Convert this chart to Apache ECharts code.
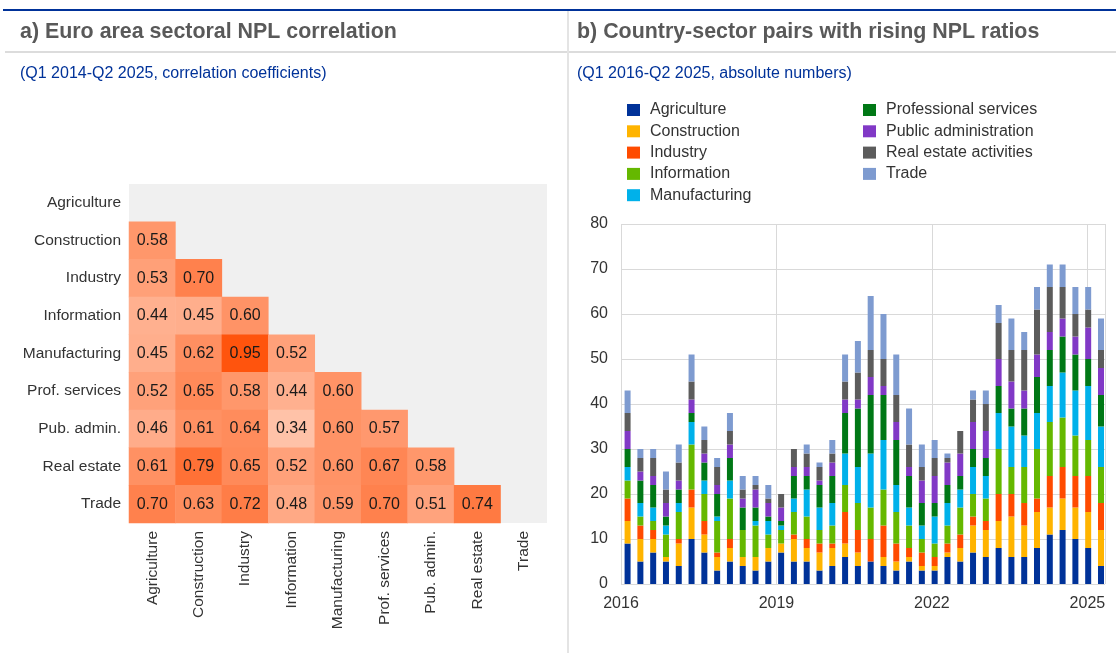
<!DOCTYPE html>
<html>
<head>
<meta charset="utf-8">
<script src="https://cdn.jsdelivr.net/npm/echarts@6/dist/echarts.min.js"></script>
<style>
  html, body { margin: 0; padding: 0; background: #ffffff; }
  #chart { width: 1116px; height: 653px; }
</style>
</head>
<body>
<div id="chart"></div>
<script>
// ---- Panel a: sector correlation matrix (lower triangle) ----
const sectors = ['Agriculture', 'Construction', 'Industry', 'Information', 'Manufacturing',
                 'Prof. services', 'Pub. admin.', 'Real estate', 'Trade'];
// row i holds correlations with sectors 0..i-1
const corrConstruction = [0.58];
const corrIndustry = [0.53, 0.70];
const corrInformation = [0.44, 0.45, 0.60];
const corrManufacturing = [0.45, 0.62, 0.95, 0.52];
const corrProfServices = [0.52, 0.65, 0.58, 0.44, 0.60];
const corrPubAdmin = [0.46, 0.61, 0.64, 0.34, 0.60, 0.57];
const corrRealEstate = [0.61, 0.79, 0.65, 0.52, 0.60, 0.67, 0.58];
const corrTrade = [0.70, 0.63, 0.72, 0.48, 0.59, 0.70, 0.51, 0.74];
const corrRows = [[], corrConstruction, corrIndustry, corrInformation, corrManufacturing,
                  corrProfServices, corrPubAdmin, corrRealEstate, corrTrade];

// ---- Panel b: country-sector pairs with rising NPL ratios, Q1 2016 - Q2 2025 ----
const seriesNames = ['Agriculture', 'Construction', 'Industry', 'Information', 'Manufacturing',
                     'Professional services', 'Public administration', 'Real estate activities', 'Trade'];
const agriculture   = [9,5,7,5,4,10,7,3,5,4, 3,5,7,5,5,3,4,6,4,5, 4,3,5,3,3,6,5,7,6,8, 6,6,8,11,12,10,8,4];
const construction  = [5,5,3,1,5,7,4,3,3,2, 3,3,2,5,3,4,4,3,3,0, 2,2,1,1,1,1,3,6,6,6, 9,7,8,6,7,7,8,8];
const industry      = [5,3,2,0,1,4,3,1,2,0, 0,0,0,1,2,2,1,7,5,5, 7,4,2,3,2,2,3,2,2,6, 5,5,3,7,7,7,8,6];
const information   = [4,2,2,5,6,10,6,7,9,6, 7,3,3,5,5,3,4,6,6,7, 8,7,5,3,3,4,6,5,5,10, 6,8,11,12,11,9,8,8];
const manufacturing = [3,3,3,2,2,5,3,1,4,0, 1,3,1,3,6,5,5,7,8,12, 11,6,4,3,6,5,4,6,5,8, 9,7,8,8,10,10,12,9];
const profServices  = [4,5,5,2,3,2,4,5,5,5, 3,1,1,5,3,5,6,9,13,13, 10,10,7,5,3,4,3,4,4,6, 4,6,8,8,8,8,6,7];
const pubAdmin      = [4,2,2,3,2,3,2,2,3,2, 4,3,3,2,2,1,3,3,2,4, 2,4,2,5,6,5,5,6,6,6, 6,4,5,4,4,4,7,6];
const realEstate    = [4,3,4,3,4,4,3,4,3,2, 1,1,3,4,3,3,2,4,6,6, 6,6,5,3,4,1,5,5,6,8, 7,9,10,10,7,5,4,4];
const trade         = [5,2,2,4,4,6,3,2,4,3, 2,3,0,0,2,1,3,6,7,12, 10,9,8,5,4,1,0,2,3,4, 7,4,5,5,5,6,5,7];
const seriesValues = [agriculture, construction, industry, information, manufacturing,
                      profServices, pubAdmin, realEstate, trade];
const seriesColors = ['#003299', '#ffb400', '#ff4b00', '#65b800', '#00b1ea',
                      '#007816', '#8139c6', '#5c5c5c', '#7e9bd0'];
const yearTicks = [2016, 2019, 2022, 2025];

// quarter labels, 2016Q1 .. 2025Q2
const quarters = [];
for (let y = 2016; y <= 2025; y++) {
  for (let q = 1; q <= 4; q++) {
    if (y === 2025 && q > 2) break;
    quarters.push(y + 'Q' + q);
  }
}
const X_MIN = 2016, X_MAX = 2025.34;
const YEAR_MS = 365.25 * 864e5;
const T0 = Date.UTC(2016, 0, 1);
// fractional year -> linear timestamp (same linear scale as the year axis)
function toMs(yearFrac) { return T0 + (yearFrac - 2016) * YEAR_MS; }
// position of a quarter on the continuous year scale
function quarterPos(label) {
  const y = parseInt(label.slice(0, 4), 10);
  const q = parseInt(label.slice(5), 10);
  return y + (q - 1) / 4 + 0.07;
}

// heatmap cells
const heatData = [];
corrRows.forEach((row, yi) => {
  row.forEach((v, xi) => heatData.push([xi, yi, v]));
});

const FONT = 'Liberation Sans, Arial, sans-serif';
const chart = echarts.init(document.getElementById('chart'), null, { renderer: 'canvas' });

const barSeries = seriesNames.map((name, i) => ({
  name: name,
  type: 'bar',
  stack: 'pairs',
  xAxisIndex: 1,
  yAxisIndex: 1,
  barWidth: 6,
  itemStyle: { color: seriesColors[i] },
  emphasis: { disabled: true },
  data: quarters.map((q, k) => [toMs(quarterPos(q)), seriesValues[i][k]])
}));

const legendText = { fontSize: 16, color: '#333333', lineHeight: 18, padding: [0, 0, 0, 5] };

chart.setOption({
  animation: false,
  textStyle: { fontFamily: FONT },
  graphic: [
    { type: 'rect', shape: { x: 3, y: 9, width: 1113, height: 2 }, style: { fill: '#003299' } },
    { type: 'rect', shape: { x: 5, y: 51, width: 1111, height: 2 }, style: { fill: '#dcdcdc' } },
    { type: 'rect', shape: { x: 567, y: 11, width: 2, height: 642 }, style: { fill: '#e4e4e4' } },
    { type: 'text', left: 20, top: 22, style: { text: 'a) Euro area sectoral NPL correlation',
        font: 'bold 21.4px ' + FONT, fill: '#595959' } },
    { type: 'text', left: 577, top: 22, style: { text: 'b) Country-sector pairs with rising NPL ratios',
        font: 'bold 21.4px ' + FONT, fill: '#595959' } },
    { type: 'text', left: 20, top: 66, style: { text: '(Q1 2014-Q2 2025, correlation coefficients)',
        font: '16px ' + FONT, fill: '#003299' } },
    { type: 'text', left: 577, top: 66, style: { text: '(Q1 2016-Q2 2025, absolute numbers)',
        font: '16px ' + FONT, fill: '#003299' } }
  ],
  legend: [
    {
      data: seriesNames.slice(0, 5),
      orient: 'vertical', left: 622, top: 96,
      itemWidth: 13, itemHeight: 12, itemGap: 3.3,
      icon: 'rect', selectedMode: false,
      textStyle: legendText
    },
    {
      data: seriesNames.slice(5),
      orient: 'vertical', left: 858, top: 96,
      itemWidth: 13, itemHeight: 12, itemGap: 3.3,
      icon: 'rect', selectedMode: false,
      textStyle: legendText
    }
  ],
  visualMap: {
    show: false, seriesIndex: 0, min: 0, max: 1,
    inRange: { color: ['#ffffff', '#ff4b00'] }
  },
  grid: [
    { left: 129, top: 184, width: 418, height: 339, show: true,
      backgroundColor: '#f0f0f0', borderWidth: 0 },
    { left: 621, top: 224, right: 11, bottom: 69 }
  ],
  xAxis: [
    {
      gridIndex: 0, type: 'category', data: sectors,
      axisLine: { show: false }, axisTick: { show: false }, splitLine: { show: false },
      axisLabel: { rotate: 90, fontSize: 15.5, color: '#333333', margin: 8, interval: 0 }
    },
    {
      // quarterly positions of the stacked bars
      gridIndex: 1, type: 'time', position: 'bottom',
      min: toMs(X_MIN), max: toMs(X_MAX),
      axisLine: { show: false }, axisTick: { show: false },
      axisLabel: { show: false }, splitLine: { show: false }
    },
    {
      // year ticks and vertical gridlines on the same scale
      gridIndex: 1, type: 'value', position: 'bottom', min: X_MIN, max: X_MAX, interval: 3,
      axisLine: { show: false }, axisTick: { show: false },
      splitLine: { show: true, lineStyle: { color: '#d9d9d9', width: 1 } },
      axisLabel: { fontSize: 16, color: '#333333', margin: 12,
        formatter: v => (yearTicks.indexOf(v) >= 0 ? String(v) : '') }
    }
  ],
  yAxis: [
    {
      gridIndex: 0, type: 'category', data: sectors, inverse: true,
      axisLine: { show: false }, axisTick: { show: false }, splitLine: { show: false },
      axisLabel: { fontSize: 15.5, color: '#333333', margin: 8 }
    },
    {
      gridIndex: 1, type: 'value', min: 0, max: 80, interval: 10,
      axisLine: { show: false }, axisTick: { show: false },
      splitLine: { show: true, lineStyle: { color: '#d9d9d9', width: 1 } },
      axisLabel: { fontSize: 16, color: '#333333', margin: 13 }
    }
  ],
  series: [
    {
      type: 'heatmap', xAxisIndex: 0, yAxisIndex: 0,
      data: heatData,
      label: { show: true, fontSize: 16, color: '#1a1a1a',
        formatter: p => p.value[2].toFixed(2) },
      emphasis: { disabled: true }
    }
  ].concat(barSeries)
});
</script>
</body>
</html>
